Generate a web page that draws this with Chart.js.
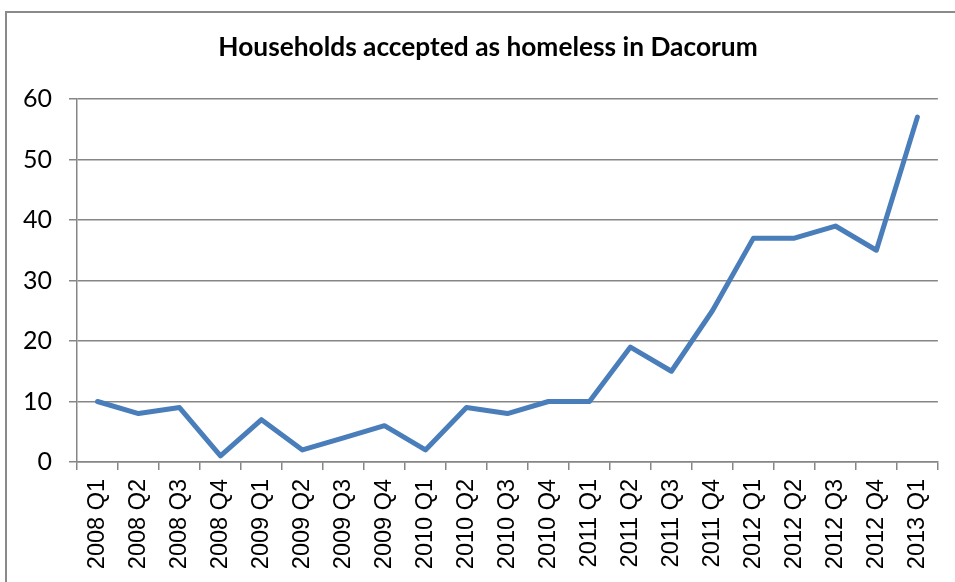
<!DOCTYPE html>
<html>
<head>
<meta charset="utf-8">
<script src="https://cdn.jsdelivr.net/npm/chart.js@4/dist/chart.umd.min.js"></script>
<style>
  body { margin: 0; background: #fff; overflow: hidden; }
  #frame { position: absolute; left: 5px; top: 11px; width: 1000px; height: 700px; border: 2px solid #8a8a8a; }
  #wrap { position: absolute; left: 0; top: 0; width: 955px; height: 582px; }
</style>
</head>
<body>
<div id="frame"></div>
<div id="wrap"><canvas id="homeless-chart"></canvas></div>
<script>
// quarters shown on the x axis
var quarters = [
  "2008 Q1", "2008 Q2", "2008 Q3", "2008 Q4",
  "2009 Q1", "2009 Q2", "2009 Q3", "2009 Q4",
  "2010 Q1", "2010 Q2", "2010 Q3", "2010 Q4",
  "2011 Q1", "2011 Q2", "2011 Q3", "2011 Q4",
  "2012 Q1", "2012 Q2", "2012 Q3", "2012 Q4",
  "2013 Q1"
];
// households accepted as homeless each quarter
var accepted = [10, 8, 9, 1, 7, 2, 4, 6, 2, 9, 8, 10, 10, 19, 15, 25, 37, 37, 39, 35, 57];
var yTicks = [0, 10, 20, 30, 40, 50, 60];

var gridGrey = "#868686";

// the frame runs past the right edge, so the title sits a bit right of the canvas centre
var shiftTitle = {
  id: "shiftTitle",
  afterLayout: function(chart) {
    if (chart.titleBlock) {
      chart.titleBlock.left = 38;
      chart.titleBlock.right = 938;
    }
  }
};

var config = {
  type: "line",
  data: {
    labels: quarters,
    datasets: [{
      data: accepted,
      borderColor: "#4a7ebb",
      borderWidth: 5,
      borderJoinStyle: "round",
      borderCapStyle: "round",
      pointRadius: 0,
      tension: 0,
      fill: false
    }]
  },
  options: {
    responsive: false,
    animation: false,
    layout: { padding: { left: 0, right: 17, top: 0, bottom: 0 } },
    plugins: {
      legend: { display: false },
      tooltip: { enabled: false },
      title: {
        display: true,
        text: "Households accepted as homeless in Dacorum",
        color: "#000",
        font: { family: "Lato, 'Liberation Sans', sans-serif", size: 26.3, weight: "bold", lineHeight: 1.2 },
        padding: { top: 32, bottom: 35.4 }
      }
    },
    scales: {
      x: {
        offset: true,
        grid: { display: true, drawOnChartArea: false, drawTicks: true, tickLength: 8, color: gridGrey, lineWidth: 1.5, offset: true },
        border: { display: true, color: gridGrey, width: 1.5 },
        ticks: {
          minRotation: 90, maxRotation: 90, autoSkip: false, padding: 9,
          color: "#000",
          font: { family: "'Liberation Sans', Arial, sans-serif", size: 23.5 }
        },
        afterFit: function(scale) { scale.height = 120; }
      },
      y: {
        min: 0, max: 60,
        afterBuildTicks: function(scale) { scale.ticks = yTicks.map(function(v) { return { value: v }; }); },
        grid: { color: gridGrey, lineWidth: 1.5, tickLength: 8 },
        border: { display: true, color: gridGrey, width: 1.5 },
        ticks: {
          padding: 17, color: "#000",
          font: { family: "Lato, 'Liberation Sans', sans-serif", size: 25 }
        },
        afterFit: function(scale) { scale.width = 77; }
      }
    }
  },
  plugins: [shiftTitle]
};

var canvas = document.getElementById("homeless-chart");
canvas.width = 955;
canvas.height = 582;
window.myLine = new Chart(canvas.getContext("2d"), config);
</script>
</body>
</html>
